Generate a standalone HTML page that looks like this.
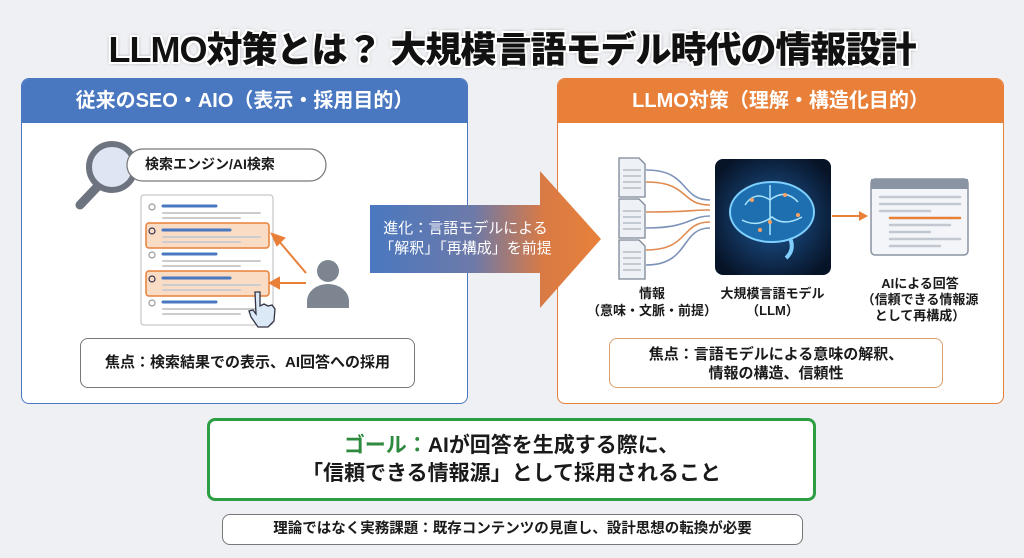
<!DOCTYPE html>
<html><head><meta charset="utf-8"><style>
*{margin:0;padding:0;box-sizing:border-box}
body{width:1024px;height:558px;background:#eef0f4;font-family:"Liberation Sans","Noto Sans CJK JP",sans-serif;position:relative;overflow:hidden;color:#1a1a1a}
.a{position:absolute}
.title{left:0;width:1024px;top:21px;text-align:center;font-size:36px;font-weight:900;color:#111;letter-spacing:-1px;
text-shadow:2px 0 #fff,-2px 0 #fff,0 2px #fff,0 -2px #fff,2px 2px #fff,-2px -2px #fff,2px -2px #fff,-2px 2px #fff,0 0 4px #333}
.panel{background:#fff;border-radius:8px;overflow:hidden}
.hdr{height:44px;color:#fff;font-size:20px;font-weight:700;text-align:center;line-height:44px}
.box{background:#fff;border-radius:8px;font-weight:700;text-align:center}
</style></head><body>
<div class="a title">LLMO対策とは？ 大規模言語モデル時代の情報設計</div>

<div class="a panel" style="left:21px;top:78px;width:447px;height:326px;border:1px solid #4a78c0">
 <div class="hdr" style="background:#4a78c0">従来のSEO・AIO（表示・採用目的）</div>
</div>
<div class="a panel" style="left:557px;top:78px;width:447px;height:326px;border:1px solid #e8803a">
 <div class="hdr" style="background:#e8803a">LLMO対策（理解・構造化目的）</div>
</div>

<svg class="a" style="left:0;top:0" width="1024" height="558">
 <defs>
  <linearGradient id="g" x1="0" x2="1"><stop offset="0" stop-color="#4a78c0"/><stop offset="0.45" stop-color="#6d7aa8"/><stop offset="0.75" stop-color="#d97a45"/><stop offset="1" stop-color="#e8803a"/></linearGradient>
  <radialGradient id="br" cx="0.5" cy="0.5" r="0.6"><stop offset="0" stop-color="#1f5a9a"/><stop offset="1" stop-color="#071428"/></radialGradient>
 </defs>
 <line x1="80" y1="205" x2="98" y2="186" stroke="#6d7480" stroke-width="9" stroke-linecap="round"/>
 <circle cx="112" cy="167" r="23" fill="#dde6f2" stroke="#6d7480" stroke-width="6"/>
 <rect x="127" y="149" width="199" height="32" rx="16" fill="#fff" stroke="#777" stroke-width="1.2"/>
 <rect x="141" y="195" width="132" height="130" rx="3" fill="#fff" stroke="#bbb"/>
 <rect x="146" y="223" width="123" height="25" rx="3" fill="#fadcc4" stroke="#e8803a" stroke-width="1.5"/>
 <rect x="146" y="271" width="123" height="25" rx="3" fill="#fadcc4" stroke="#e8803a" stroke-width="1.5"/>
 <g stroke-linecap="round">
  <line x1="163" y1="206" x2="216" y2="206" stroke="#4a78c0" stroke-width="3"/><line x1="163" y1="213" x2="260" y2="213" stroke="#ccc" stroke-width="2"/><line x1="163" y1="218" x2="240" y2="218" stroke="#ccc" stroke-width="2"/>
  <line x1="163" y1="230" x2="230" y2="230" stroke="#4a78c0" stroke-width="3"/><line x1="163" y1="237" x2="260" y2="237" stroke="#ccc" stroke-width="2"/><line x1="163" y1="242" x2="240" y2="242" stroke="#ccc" stroke-width="2"/>
  <line x1="163" y1="254" x2="216" y2="254" stroke="#4a78c0" stroke-width="3"/><line x1="163" y1="261" x2="260" y2="261" stroke="#ccc" stroke-width="2"/><line x1="163" y1="266" x2="240" y2="266" stroke="#ccc" stroke-width="2"/>
  <line x1="163" y1="278" x2="230" y2="278" stroke="#4a78c0" stroke-width="3"/><line x1="163" y1="285" x2="260" y2="285" stroke="#ccc" stroke-width="2"/><line x1="163" y1="290" x2="240" y2="290" stroke="#ccc" stroke-width="2"/>
  <line x1="163" y1="302" x2="216" y2="302" stroke="#4a78c0" stroke-width="3"/><line x1="163" y1="309" x2="260" y2="309" stroke="#ccc" stroke-width="2"/><line x1="163" y1="314" x2="240" y2="314" stroke="#ccc" stroke-width="2"/>
 </g>
 <g fill="none" stroke="#999" stroke-width="1.2"><circle cx="152" cy="207" r="3"/><circle cx="152" cy="231" r="3" stroke="#335"/><circle cx="152" cy="255" r="3"/><circle cx="152" cy="279" r="3" stroke="#335"/><circle cx="152" cy="303" r="3"/></g>
 <g stroke="#e8803a" stroke-width="2" fill="#e8803a">
  <line x1="306" y1="273" x2="278" y2="240"/><polygon points="272,234 284,238 277,245"/>
  <line x1="306" y1="283" x2="278" y2="283"/><polygon points="270,283 279,278 279,288"/>
 </g>
 <path d="M255 292 l5 0 0 14 4 -2 4 2 4 -1 3 4 -1 12 -6 6 -10 0 -7 -10 -2 -6 4 -1 3 4z" fill="#dbe8f5" stroke="#334" stroke-width="1.3"/>
 <circle cx="328" cy="271" r="11" fill="#7d8591"/>
 <path d="M307 308 v-7 a21 17 0 0 1 42 0 v7z" fill="#7d8591"/>
 <polygon points="370,205 540,205 540,171 601,239 540,308 540,273 370,273" fill="url(#g)"/>
 <g fill="#eef1f5" stroke="#7d8797" stroke-width="1.3">
  <path d="M619 158 h20 l6 6 v33 h-26z"/><path d="M619 199 h20 l6 6 v33 h-26z"/><path d="M619 240 h20 l6 6 v33 h-26z"/>
 </g>
 <g stroke="#9aa3b0" stroke-width="1">
  <line x1="623" y1="170" x2="641" y2="170"/><line x1="623" y1="176" x2="641" y2="176"/><line x1="623" y1="182" x2="641" y2="182"/><line x1="623" y1="188" x2="641" y2="188"/>
  <line x1="623" y1="211" x2="641" y2="211"/><line x1="623" y1="217" x2="641" y2="217"/><line x1="623" y1="223" x2="641" y2="223"/><line x1="623" y1="229" x2="641" y2="229"/>
  <line x1="623" y1="252" x2="641" y2="252"/><line x1="623" y1="258" x2="641" y2="258"/><line x1="623" y1="264" x2="641" y2="264"/><line x1="623" y1="270" x2="641" y2="270"/>
 </g>
 <g fill="none" stroke-width="1.6">
  <path d="M646 170 C690 170,680 200,710 200" stroke="#7d93b8"/>
  <path d="M646 182 C690 182,680 205,710 205" stroke="#e08a50"/>
  <path d="M646 212 C690 212,690 210,710 210" stroke="#e08a50"/>
  <path d="M646 228 C690 228,690 216,710 216" stroke="#7d93b8"/>
  <path d="M646 250 C690 250,680 222,710 222" stroke="#e08a50"/>
  <path d="M646 265 C690 265,680 228,710 228" stroke="#7d93b8"/>
 </g>
 <rect x="715" y="159" width="116" height="116" rx="8" fill="url(#br)"/>
 <ellipse cx="772" cy="212" rx="42" ry="30" fill="#1d6fb0" stroke="#7fd0ff" stroke-width="2"/>
 <path d="M745 205 q10 -15 25 -5 q15 -12 28 2 M742 220 q15 8 30 -3 q12 10 30 0 M770 185 v50" stroke="#a8e4ff" stroke-width="1.5" fill="none"/>
 <path d="M790 238 q5 12 -4 20" stroke="#7fd0ff" stroke-width="4" fill="none"/>
 <g fill="#ffa060"><circle cx="752" cy="200" r="2"/><circle cx="785" cy="195" r="2"/><circle cx="770" cy="222" r="2"/><circle cx="798" cy="215" r="2"/><circle cx="760" cy="230" r="2"/></g>
 <line x1="832" y1="216" x2="860" y2="216" stroke="#e8803a" stroke-width="2"/><polygon points="868,216 859,211 859,221" fill="#e8803a"/>
 <rect x="871" y="179" width="97" height="76" rx="4" fill="#f3f5f8" stroke="#8a94a3" stroke-width="1.5"/>
 <rect x="871" y="179" width="97" height="10" fill="#8a94a3"/>
 <g stroke-linecap="round" stroke-width="2.5">
  <line x1="880" y1="197" x2="960" y2="197" stroke="#c3c8d0"/><line x1="880" y1="204" x2="960" y2="204" stroke="#c3c8d0"/><line x1="880" y1="211" x2="930" y2="211" stroke="#c3c8d0"/>
  <line x1="890" y1="218" x2="960" y2="218" stroke="#e8803a"/><line x1="890" y1="225" x2="950" y2="225" stroke="#c3c8d0"/><line x1="890" y1="232" x2="930" y2="232" stroke="#c3c8d0"/>
  <line x1="890" y1="239" x2="960" y2="239" stroke="#c3c8d0"/><line x1="890" y1="246" x2="940" y2="246" stroke="#c3c8d0"/>
 </g>
</svg>

<div class="a" style="left:145px;top:154px;font-size:14px;font-weight:700">検索エンジン/AI検索</div>
<div class="a" style="left:368px;top:219px;width:195px;text-align:center;color:#fff;font-size:15px;line-height:20px">進化：言語モデルによる<br>「解釈」「再構成」を前提</div>
<div class="a" style="left:582px;top:285px;width:140px;text-align:center;font-size:13px;font-weight:700;line-height:17px">情報<br>（意味・文脈・前提）</div>
<div class="a" style="left:700px;top:285px;width:145px;text-align:center;font-size:13px;font-weight:700;line-height:17px">大規模言語モデル<br>（LLM）</div>
<div class="a" style="left:855px;top:276px;width:130px;text-align:center;font-size:13px;font-weight:700;line-height:16px">AIによる回答<br>（信頼できる情報源<br>として再構成）</div>

<div class="a box" style="left:80px;top:338px;width:335px;height:50px;border:1px solid #777;font-size:15px;line-height:48px">焦点：検索結果での表示、AI回答への採用</div>
<div class="a box" style="left:609px;top:338px;width:334px;height:50px;border:1px solid #d8a070;font-size:15px;line-height:19px;padding-top:6px">焦点：言語モデルによる意味の解釈、<br>情報の構造、信頼性</div>

<div class="a box" style="left:207px;top:418px;width:609px;height:83px;border:3px solid #2e9e44;font-size:21px;line-height:28px;padding-top:11px">
 <span style="color:#2e8a3e">ゴール：</span>AIが回答を生成する際に、<br>「信頼できる情報源」として採用されること</div>
<div class="a box" style="left:222px;top:514px;width:581px;height:31px;border:1px solid #777;font-size:14.5px;line-height:29px">理論ではなく実務課題：既存コンテンツの見直し、設計思想の転換が必要</div>
</body></html>
